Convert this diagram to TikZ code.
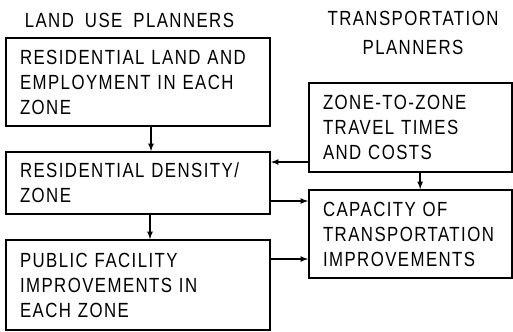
\documentclass[tikz,border=0pt]{standalone}
\usepackage{fontspec}
\setmainfont{Liberation Sans}[FakeStretch=0.82, LetterSpace=7, WordSpace=1.8]
\usepackage{tikz}

\tikzset{
    box/.style={draw, line width=1.5pt, align=left, inner xsep=0.42cm,
        font=\fontsize{17.5}{21.3}\selectfont},
    flow/.style={->, >=latex, line width=1.2pt},
    head/.style={font=\fontsize{17.5}{24.7}\selectfont}
}

\begin{document}
\begin{tikzpicture}
            \useasboundingbox (0,0) rectangle (15.39,-9.93);
            \node[head, anchor=west] (lhead) at (0.62,-0.60) {LAND USE PLANNERS};
            \node[head, align=center] (thead) at (12.39,-0.975) {TRANSPORTATION\\PLANNERS};
            \node[box, text width=7.08cm, minimum height=2.64cm] (landuse) at (4.14,-2.46)
                {RESIDENTIAL LAND AND\\EMPLOYMENT IN EACH\\ZONE};
            \node[box, text width=7.08cm, minimum height=1.86cm] (density) at (4.14,-5.49)
                {RESIDENTIAL DENSITY/\\ZONE};
            \node[box, text width=7.08cm, minimum height=2.70cm] (facility) at (4.14,-8.55)
                {PUBLIC FACILITY\\IMPROVEMENTS IN\\EACH ZONE};
            \node[box, text width=5.25cm, minimum height=2.67cm] (travel) at (12.315,-3.825)
                {ZONE-TO-ZONE\\TRAVEL TIMES\\AND COSTS};
            \node[box, text width=5.25cm, minimum height=2.64cm] (capacity) at (12.315,-7.02)
                {CAPACITY OF\\TRANSPORTATION\\IMPROVEMENTS};
            \draw[flow] ([xshift=3.9mm]landuse.south) -- ([xshift=3.9mm]density.north);
            \draw[flow] ([xshift=3.6mm]density.south) -- ([xshift=3.6mm]facility.north);
            \draw[flow] ([xshift=2.9mm]travel.south) -- ([xshift=2.9mm]capacity.north);
            \coordinate (t1) at ([yshift=-10.35mm]travel.west);
            \coordinate (d1) at ([yshift=-5.4mm]density.east);
            \coordinate (f1) at ([yshift=7.8mm]facility.east);
            \draw[flow] (t1) -- (t1 -| density.east);
            \draw[flow] (d1) -- (d1 -| capacity.west);
            \draw[flow] (f1) -- (f1 -| capacity.west);
        \end{tikzpicture}
\end{document}
